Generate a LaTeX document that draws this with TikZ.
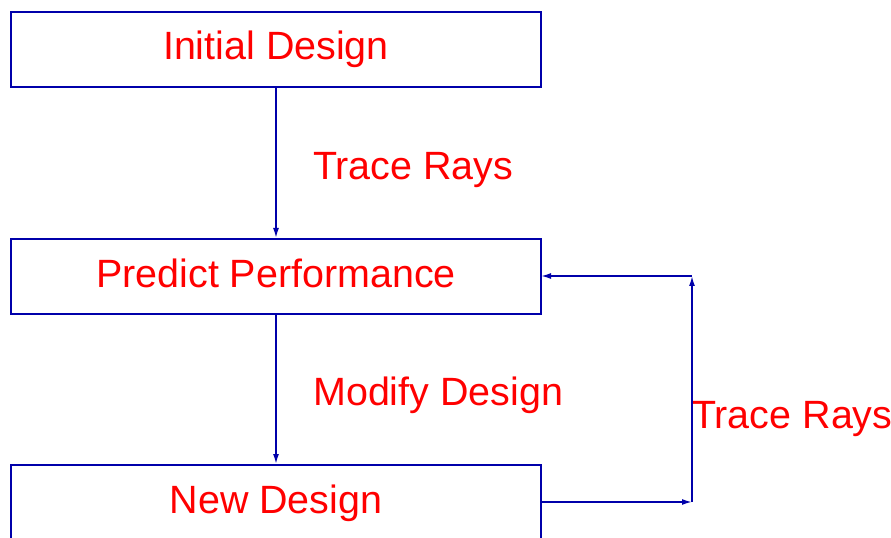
\documentclass[tikz,border=0pt]{standalone}
\usepackage{fontspec}
\setmainfont{Liberation Sans}
\usetikzlibrary{arrows.meta}
\definecolor{lineblue}{RGB}{0,0,170}
\definecolor{txtred}{RGB}{255,0,0}
\begin{document}
\begin{tikzpicture}[x=1bp,y=-1bp,
  box/.style={draw=lineblue,line width=2bp,minimum width=530bp,minimum height=75bp,inner sep=0pt},
  lbl/.style={text=txtred,font=\fontsize{39.6}{44}\selectfont,inner sep=0pt},
  conn/.style={draw=lineblue,line width=1.6bp,-{Latex[length=10bp,width=6bp]}},
  plain/.style={draw=lineblue,line width=2bp}]
\useasboundingbox (0,0) rectangle (891,538);
\node[box] (b1) at (276,49.5) {};
\node[box] (b2) at (276,276.5) {};
\node[box,minimum height=80bp] (b3) at (276,505) {};
\node[lbl,anchor=base] (t1) at (276,60) {Initial Design};
\node[lbl,anchor=base] (t2) at (276,288) {Predict Performance};
\node[lbl,anchor=base] (t3) at (276,513) {New Design};
\node[lbl,anchor=base west] (l1) at (313,180) {Trace Rays};
\node[lbl,anchor=base west] (l2) at (313,405) {Modify Design};
\node[lbl,anchor=base west] (l3) at (692,428) {Trace Rays};
\coordinate (c1) at (692,502);
\coordinate (c2) at (692,276);
\draw[conn] (b1.south) -- (b2.north);
\draw[conn] (b2.south) -- (b3.north);
\draw[conn] (b3.east |- c1) -- (c1);
\draw[conn] (c1) -- (c2);
\draw[conn] (c2) -- ([xshift=-1bp]b2.east |- c2);
\end{tikzpicture}
\end{document}
